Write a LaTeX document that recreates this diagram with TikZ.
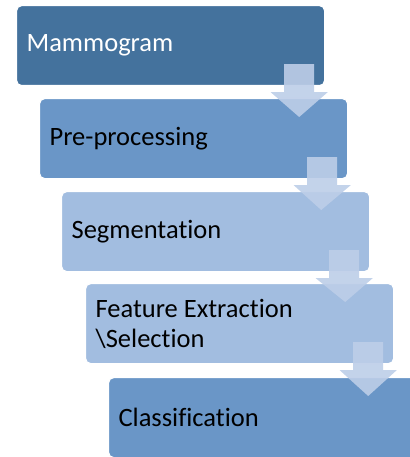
\documentclass[tikz,border=0pt]{standalone}
\usepackage{fontspec}
\setmainfont{Carlito}[RawFeature={-liga;-clig;-calt;-rlig;-dlig}]
\usetikzlibrary{calc}

\definecolor{stagedark}{RGB}{68,114,157}
\definecolor{stagemid}{RGB}{106,150,199}
\definecolor{stagelight}{RGB}{162,189,224}
\definecolor{arrowblue}{RGB}{189,206,232}

\tikzset{
  stage/.style={draw=white, line width=1.2pt, rounded corners=5pt, anchor=north west,
    minimum width=308pt, minimum height=80pt, text width=288pt, inner xsep=10pt,
    align=flush left, font=\fontsize{26.5}{30}\selectfont},
  arrowfill/.style={fill=arrowblue, fill opacity=0.9}
}

\newcommand{\stagearrow}[2]{%
  \fill[arrowfill] ($(#1.south east)+(-41,-22)$) -- ($(#1.south east)+(-11,-22)$)
    -- ($(#1.south east)+(-11,6)$) -- ($(#1.south east)+(2.5,6)$)
    -- ($(#2.north east)+(-49,19)$)
    -- ($(#1.south east)+(-54.5,6)$) -- ($(#1.south east)+(-41,6)$) -- cycle;}

\begin{document}
\begin{tikzpicture}[x=1pt,y=-1pt]
  \useasboundingbox (0,0) rectangle (409,457);
  \node[stage, fill=stagedark, text=white] (mammo) at (16,5) {Mammogram};
  \node[stage, fill=stagemid] (prep) at (39,98) {Pre-processing};
  \node[stage, fill=stagelight] (segm) at (61,191) {Segmentation};
  \node[stage, fill=stagelight] (feat) at (85,283) {Feature Extraction\\\textbackslash Selection};
  \node[stage, fill=stagemid] (clas) at (108,377) {Classification};
  %% block arrows between the stages
  \stagearrow{mammo}{prep}
  \stagearrow{prep}{segm}
  \stagearrow{segm}{feat}
  \stagearrow{feat}{clas}
\end{tikzpicture}
\end{document}
